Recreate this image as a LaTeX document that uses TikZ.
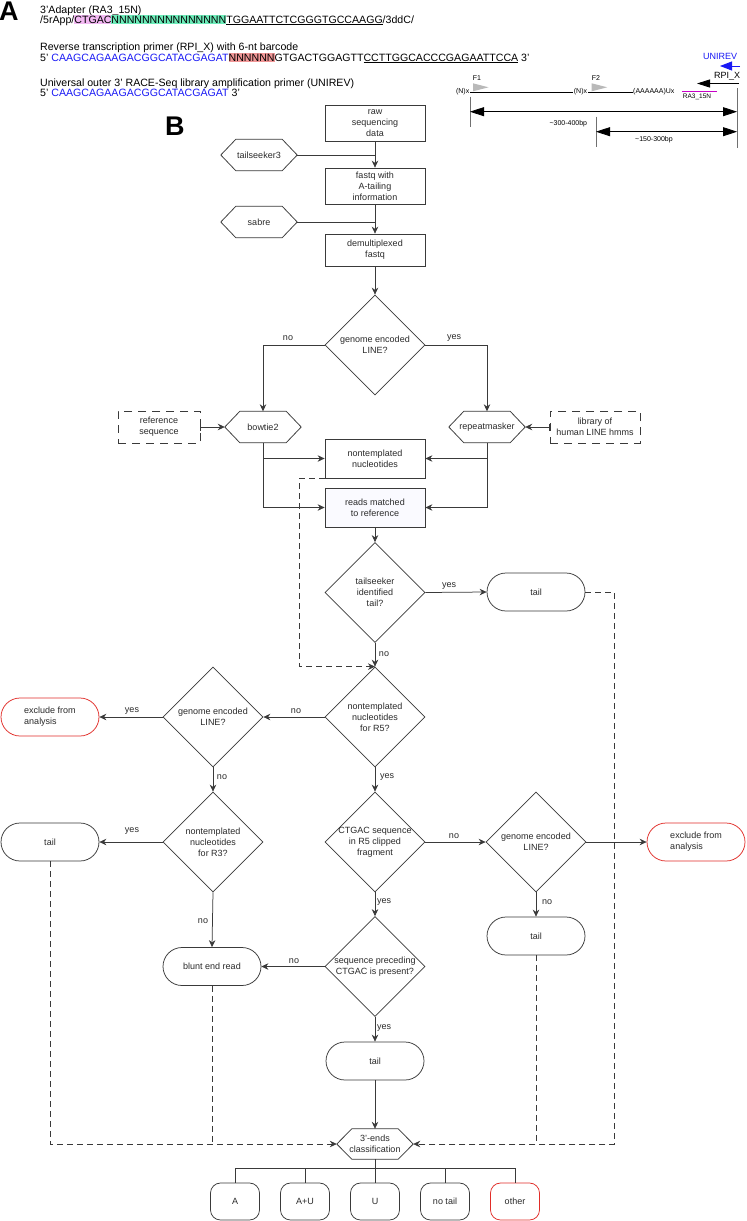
\documentclass[tikz,border=0pt]{standalone}
\usepackage{fontspec}
\setmainfont{Liberation Sans}
\usetikzlibrary{arrows.meta,shapes.geometric,shapes.misc,calc}
\definecolor{lc}{HTML}{3A3A3A}
\definecolor{tc}{HTML}{2A2A2A}
\definecolor{bl}{RGB}{25,25,245}
\definecolor{hpink}{RGB}{242,184,242}
\definecolor{hgreen}{RGB}{110,236,186}
\definecolor{hred}{RGB}{240,150,150}
\definecolor{rd}{RGB}{225,45,40}
\definecolor{mg}{RGB}{200,0,200}
\definecolor{tk}{HTML}{707070}
\newcommand\hlt[2]{{\setlength{\fboxsep}{0pt}\colorbox{#1}{\rule[-1pt]{0pt}{9.3pt}#2}}}
\newcommand\ftxt{\fontsize{9}{10.8}\selectfont}
\newcommand\hexpath[1]{\draw[ln] (#1.west) -- ([xshift=15pt]#1.north west) -- ([xshift=-15pt]#1.north east) -- (#1.east) -- ([xshift=-15pt]#1.south east) -- ([xshift=15pt]#1.south west) -- cycle;}
\begin{document}
\begin{tikzpicture}[x=1pt,y=-1pt,
 ln/.style={draw=lc, line width=0.75pt},
 arr/.style={ln,-{Stealth[length=7pt,width=6.5pt]}},
 barr/.style={ln,{Bar[width=7pt]}-{Stealth[length=7pt,width=6.5pt]}},
 dsh/.style={ln, dash pattern=on 6pt off 4pt},
 darr/.style={dsh,-{Stealth[length=7pt,width=6.5pt]}},
 ft/.style={font=\ftxt, text=tc, align=center},
 box/.style={ft, draw=lc, line width=0.75pt, minimum width=100pt, inner sep=1pt},
 dbox/.style={ft, draw=lc, line width=0.75pt, dash pattern=on 8pt off 6pt, inner sep=1pt},
 hexa/.style={ft, minimum width=76pt, minimum height=31pt, inner sep=0pt},
 dia/.style={draw=lc, line width=0.75pt, diamond, minimum width=100pt, minimum height=100pt, inner sep=0pt},
 stad/.style={ft, draw=lc, line width=0.75pt, rounded rectangle, minimum width=100pt, minimum height=38pt, inner sep=1pt},
 stadr/.style={stad, draw=rd, align=left},
 leaf/.style={ft, draw=lc, line width=0.75pt, rounded corners=10pt, minimum width=49pt, minimum height=37pt, inner sep=1pt},
 lab/.style={ft, inner sep=0.5pt},
 seqt/.style={anchor=base west, inner sep=0pt, font=\fontsize{10.6}{12}\selectfont},
 smt/.style={inner sep=0.5pt, font=\fontsize{7}{8}\selectfont},
 big/.style={inner sep=0pt, anchor=base west, font=\fontsize{27}{27}\bfseries\selectfont},
 tick/.style={draw=tk, line width=0.9pt},
 dbl/.style={draw=black, line width=0.8pt, {Triangle[length=14pt,width=9pt]}-{Triangle[length=14pt,width=9pt]}}
]
\useasboundingbox (0,0) rectangle (747,1221);
\fill[white] (0,0) rectangle (747,1221);

% ---------- Panel A ----------
\node[big] (lA) at (-1,20) {A};
\node[seqt] (t1) at (40,13) {3'Adapter (RA3\_15N)};
\node[seqt] (t2) at (40,23) {/5rApp/\hlt{hpink}{CTGAC}\hlt{hgreen}{NNNNNNNNNNNNNNN}\underline{TGGAATTCTCGGGTGCCAAGG}/3ddC/};
\node[seqt] (t3) at (40,50) {Reverse transcription primer (RPI\_X) with 6-nt barcode};
\node[seqt] (t4) at (40,61) {5' \textcolor{bl}{CAAGCAGAAGACGGCATACGAGAT}\hlt{hred}{NNNNNN}GTGACTGGAGTT\underline{CCTTGGCACCCGAGAATTCCA} 3'};
\node[seqt] (t5) at (40,86.5) {Universal outer 3' RACE-Seq library amplification primer (UNIREV)};
\node[seqt] (t6) at (40,96.5) {5' \textcolor{bl}{CAAGCAGAAGACGGCATACGAGAT} 3'};

% right schematic
\node[inner sep=0pt, font=\fontsize{9}{10}\selectfont, text=bl] (uni) at (720,56.5) {UNIREV};
\coordinate (ue) at (740,66);
\coordinate (ut) at (720,66);
\draw[draw=bl, line width=0.9pt, -{Triangle[length=12pt,width=9pt]}] (ue) -- (ut);
\node[inner sep=0pt, font=\fontsize{9}{10}\selectfont] (rpi) at (727,76.5) {RPI\_X};
\coordinate (re) at (739,83.5);
\coordinate (rt) at (697,83.5);
\draw[draw=black, line width=0.9pt, -{Triangle[length=13pt,width=8pt]}] (re) -- (rt);
\draw[draw=mg, line width=1.3pt] (682,91.5) -- (717,91.5);
\node[smt, font=\fontsize{6.5}{7}\selectfont] (ra3) at (697,97) {RA3\_15N};
\node[smt, anchor=east] (nx1) at (470,92) {(N)x};
\node[smt] (nx2) at (580.5,92) {(N)x};
\node[smt, anchor=west] (aU) at (632.5,92) {(AAAAAA)Ux};
\draw[draw=black, line width=0.5pt] (nx1.east) -- (nx2.west);
\draw[draw=black, line width=0.5pt] (nx2.east) -- (aU.west);
\fill[gray!55] (473,83.3) -- (488.5,87.3) -- (473,91.3) -- cycle;
\fill[gray!55] (591.7,83.3) -- (607.2,87.3) -- (591.7,91.3) -- cycle;
\node[smt] (f1) at (477,78.3) {F1};
\node[smt] (f2) at (596,78.3) {F2};
\draw[tick] (470,96.7) -- (470,126.7);
\draw[tick] (737,88.3) -- (737,148.3);
\draw[tick] (596,116.7) -- (596,147.3);
\draw[dbl] (470,111.7) -- (737,111.7);
\draw[dbl] (596,131.7) -- (737,131.7);
\node[smt] (b1) at (568.3,123.3) {\textasciitilde300-400bp};
\node[smt] (b2) at (654,140) {\textasciitilde150-300bp};

% ---------- Panel B ----------
\node[big] (lB) at (165,135) {B};

\node[box, minimum height=36pt] (raw) at (375,123) {raw\\sequencing\\data};
\node[box, minimum height=36pt] (fastq) at (375,186) {fastq with\\A-tailing\\information};
\node[box, minimum height=32pt] (demux) at (375,250) {demultiplexed\\fastq};
\node[hexa] (ts3) at (259,155) {tailseeker3}; \hexpath{ts3}
\node[hexa] (sabre) at (259,222) {sabre}; \hexpath{sabre}

\node[dia] (d1) at (375,345) {};
\node[ft] (d1t) at (d1) {genome encoded\\LINE?};

\node[hexa] (bowtie) at (263,427) {bowtie2}; \hexpath{bowtie}
\node[hexa] (rep) at (487,427) {repeatmasker}; \hexpath{rep}
\node[dbox, minimum width=82pt, minimum height=32pt] (refseq) at (159,427) {reference\\sequence};
\node[dbox, minimum width=90pt, minimum height=32pt] (lib) at (595,427) {library of\\human LINE hmms};

\node[box, minimum height=39pt] (nontempl) at (375,458.5) {nontemplated\\nucleotides};
\node[box, minimum height=39pt, fill=blue!2] (reads) at (375,507.5) {reads matched\\to reference};

\node[dia] (d2) at (375,592.5) {};
\node[ft] (d2t) at (d2) {tailseeker\\identified\\tail?};
\node[stad] (tail1) at (536,592) {tail};

\node[dia] (d3) at (375,717) {};
\node[ft] (d3t) at (d3) {nontemplated\\nucleotides\\for R5?};
\node[dia] (d4) at (213,717) {};
\node[ft] (d4t) at (d4) {genome encoded\\LINE?};
\node[stadr] (excl1) at (50,717) {exclude from\\analysis};

\node[dia] (d5) at (213,842) {};
\node[ft] (d5t) at (d5) {nontemplated\\nucleotides\\for R3?};
\node[stad] (tail2) at (50,842) {tail};
\node[dia] (d6) at (375,842) {};
\node[ft] (d6t) at (d6) {CTGAC sequence\\in R5 clipped\\fragment};
\node[dia] (d7) at (536,842) {};
\node[ft] (d7t) at (d7) {genome encoded\\LINE?};
\node[stadr] (excl2) at (696,842) {exclude from\\analysis};
\node[stad] (tail3) at (536,936) {tail};

\node[stad] (blunt) at (212,966.5) {blunt end read};
\node[dia] (d8) at (375,966.5) {};
\node[ft] (d8t) at (d8) {sequence preceding\\CTGAC is present?};
\node[stad] (tail4) at (375,1061) {tail};

\node[hexa, minimum height=30pt] (cls) at (375,1144) {3'-ends\\classification}; \hexpath{cls}

\node[leaf] (nA) at (235,1201.5) {A};
\node[leaf] (nAU) at (305,1201.5) {A+U};
\node[leaf] (nU) at (375,1201.5) {U};
\node[leaf] (nNT) at (445,1201.5) {no tail};
\node[leaf, draw=rd] (nOT) at (515,1201.5) {other};

% connectors
\draw[arr] (raw) -- (fastq);
\draw[ln] (ts3.east) -- (ts3.east -| raw.south);
\draw[arr] (fastq) -- (demux);
\draw[ln] (sabre.east) -- (sabre.east -| fastq.south);
\draw[arr] (demux) -- (d1);
\draw[arr] (d1.west) -| (bowtie.north);
\draw[arr] (d1.east) -| (rep.north);
\node[lab] (l1) at (288,338) {no};
\node[lab] (l2) at (454,338) {yes};
\draw[barr] (refseq.east) -- (bowtie.west);
\draw[barr] (lib.west) -- (rep.east);
\draw[arr] (bowtie.south) |- (reads.west);
\draw[arr] (bowtie.south |- nontempl.west) -- (nontempl.west);
\draw[arr] (rep.south) |- (reads.east);
\draw[arr] (rep.south |- nontempl.east) -- (nontempl.east);
\draw[darr] (nontempl.south west) -- ++(-25,0) |- (d3.north);
\draw[arr] (reads) -- (d2);
\draw[arr] (d2.east) -- (tail1.west);
\node[lab] (l3) at (449,586) {yes};
\draw[arr] (d2.south) -- (d3.north);
\node[lab] (l4) at (384,654) {no};
\draw[darr] (tail1.east) -- ++(29,0) |- (cls.east);
\draw[dsh] (tail3.south) -- (tail3.south |- cls.east);
\draw[darr] (tail2.south) |- (cls.west);
\draw[dsh] (blunt.south) -- (blunt.south |- cls.west);

\draw[arr] (d3.west) -- (d4.east);
\node[lab] (l5) at (296,711) {no};
\draw[arr] (d4.west) -- (excl1.east);
\node[lab] (l6) at (132,711) {yes};
\draw[arr] (d4.south) -- (d5.north);
\node[lab] (l7) at (222,777) {no};
\draw[arr] (d5.west) -- (tail2.east);
\node[lab] (l8) at (132,831) {yes};
\draw[arr] (d5.south) -- (blunt.north);
\node[lab] (l9) at (203,921) {no};
\draw[arr] (d3.south) -- (d6.north);
\node[lab] (l10) at (387,777) {yes};
\draw[arr] (d6.east) -- (d7.west);
\node[lab] (l11) at (454,836) {no};
\draw[arr] (d7.east) -- (excl2.west);
\draw[arr] (d7.south) -- (tail3.north);
\node[lab] (l12) at (547,902) {no};
\draw[arr] (d6.south) -- (d8.north);
\node[lab] (l13) at (384,902) {yes};
\draw[arr] (d8.west) -- (blunt.east);
\node[lab] (l14) at (294,961) {no};
\draw[arr] (d8.south) -- (tail4.north);
\node[lab] (l15) at (384,1028) {yes};
\draw[arr] (tail4.south) -- (cls.north);

\draw[ln] (cls.south) -- ++(0,9) coordinate (jn);
\draw[ln] (nA.north |- jn) -- (nOT.north |- jn);
\foreach \n in {nA,nAU,nU,nNT,nOT} \draw[ln] (\n.north |- jn) -- (\n.north);
\end{tikzpicture}
\end{document}
